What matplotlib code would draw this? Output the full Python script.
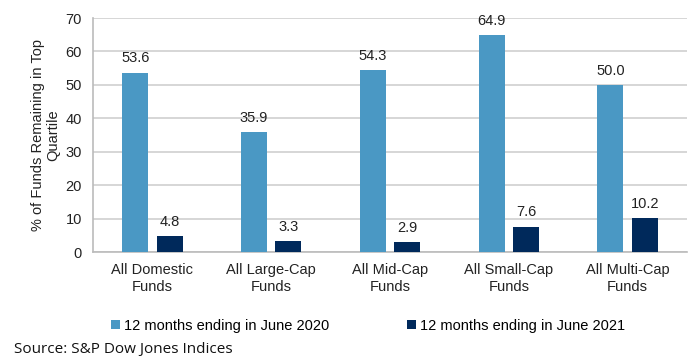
import matplotlib.pyplot as plt
import numpy as np

plt.rcParams['font.family'] = ['Liberation Sans', 'DejaVu Sans']

categories = ['All Domestic\nFunds', 'All Large-Cap\nFunds', 'All Mid-Cap\nFunds',
              'All Small-Cap\nFunds', 'All Multi-Cap\nFunds']
june_2020 = [53.6, 35.9, 54.3, 64.9, 50.0]
june_2021 = [4.8, 3.3, 2.9, 7.6, 10.2]
series_names = ['12 months ending in June 2020', '12 months ending in June 2021']

light = '#4A98C4'
dark = '#00295B'

fig = plt.figure(figsize=(6.88, 3.64), dpi=100)
ax = fig.add_axes([93 / 688, 1 - 252 / 364, 594 / 688, (252 - 18) / 364])

x = np.arange(len(categories))
w = 0.22
off = 0.145
b1 = ax.bar(x - off, june_2020, w, color=light, label=series_names[0], zorder=3)
b2 = ax.bar(x + off, june_2021, w, color=dark, label=series_names[1], zorder=3)

for bars, vals in [(b1, june_2020), (b2, june_2021)]:
    for b, v in zip(bars, vals):
        ax.text(b.get_x() + b.get_width() / 2, v + 2.2, f'{v:.1f}',
                ha='center', va='bottom', fontsize=10.5, color='#222222')

ax.set_xlim(-0.5, 4.5)
ax.set_ylim(0, 70)
ax.set_yticks(range(0, 71, 10))
ax.yaxis.grid(True, color='#D0D0D0', linewidth=1.2, zorder=0)
ax.set_xticks(x)
ax.set_xticklabels(categories, fontsize=10.5, color='#222222', linespacing=1.3)
ax.tick_params(axis='both', length=0, labelsize=10.5, colors='#222222')
ax.tick_params(axis='x', pad=8)
ax.tick_params(axis='y', pad=8)
for s in ['top', 'right']:
    ax.spines[s].set_visible(False)
for s in ['left', 'bottom']:
    ax.spines[s].set_color('#BBBBBB')
    ax.spines[s].set_linewidth(1.2)

ax.set_ylabel('% of Funds Remaining in Top\nQuartile', fontsize=10.5,
              color='#222222', linespacing=1.1, labelpad=4, multialignment='center')

fig.legend(handles=[b1, b2], labels=series_names, loc='center',
           bbox_to_anchor=(0.535, 1 - 326 / 364), ncol=2, frameon=False,
           fontsize=10.5, handlelength=0.6, handleheight=0.6, handletextpad=0.3,
           columnspacing=5.3, borderpad=0)

fig.text(14 / 688, 1 - 349 / 364, 'Source: S&P Dow Jones Indices', fontsize=11,
         family=['Open Sans', 'DejaVu Sans'], va='center', ha='left', color='#111111')

fig.savefig('out.png', dpi=100)
